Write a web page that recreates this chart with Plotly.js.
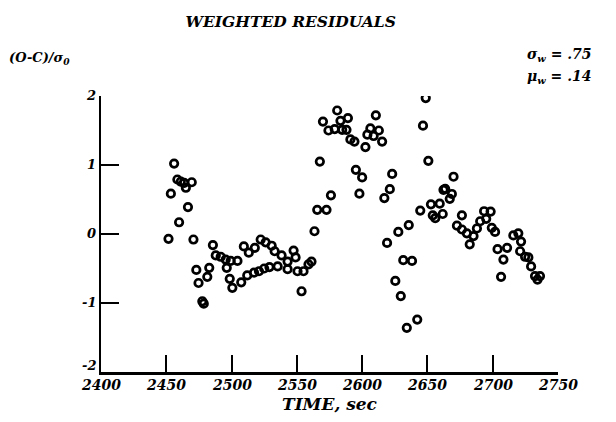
<!DOCTYPE html>
<html>
<head>
<meta charset="utf-8">
<script src="https://cdn.plot.ly/plotly-3.0.1.min.js"></script>
<style>html,body{margin:0;padding:0;background:#fff;}#chart{width:616px;height:422px;}</style>
</head>
<body>
<div id="chart"></div>
<script>
// Time (sec) of each observation
const timeSec = [
  2451.7, 2453.5, 2456.0, 2458.5, 2459.8, 2461.1, 2463.7, 2465.0, 2466.6, 2469.5,
  2470.8, 2473.0, 2474.7, 2477.6, 2478.7, 2481.4, 2482.9, 2485.7, 2487.9, 2491.7,
  2495.5, 2496.3, 2498.6, 2499.3, 2500.6, 2504.5,
  2507.4, 2509.4, 2512.0, 2513.2, 2517.2, 2517.8, 2521.0, 2522.3, 2525.0, 2526.1,
  2529.0, 2530.7, 2533.0, 2535.3, 2538.3, 2542.9, 2542.9, 2547.5, 2549.0, 2550.5,
  2553.6, 2555.1, 2558.9, 2561.2,
  2563.5, 2565.6, 2567.6, 2570.0, 2572.7, 2574.2, 2576.1, 2579.0, 2580.9, 2583.4,
  2584.7, 2588.0, 2589.1, 2591.0, 2594.1, 2595.2, 2597.9, 2600.0, 2602.5, 2604.0,
  2606.3, 2608.8, 2610.5, 2612.8, 2615.3, 2617.0, 2619.1, 2621.2, 2623.0, 2625.4,
  2627.7, 2629.6, 2631.5, 2634.2, 2635.7, 2638.2, 2642.2, 2644.5, 2646.6, 2648.7,
  2650.7, 2652.7, 2654.1, 2656.0, 2659.4, 2661.7, 2662.3, 2663.6, 2667.1, 2668.7,
  2670.0, 2672.6, 2676.4, 2676.4, 2680.2, 2682.4, 2685.3, 2687.9, 2690.4, 2693.4,
  2695.0, 2698.4, 2699.3, 2701.8, 2703.7, 2706.4, 2708.2, 2711.0, 2715.8, 2719.6,
  2721.0, 2721.7, 2724.8, 2727.3, 2729.4, 2732.4, 2734.3, 2736.2
];
// Weighted residual (O-C)/sigma_0
const residual = [
  -0.07, 0.585, 1.02, 0.79, 0.17, 0.76, 0.74, 0.67, 0.39, 0.75,
  -0.08, -0.52, -0.71, -0.975, -1.01, -0.62, -0.49, -0.16, -0.31, -0.33,
  -0.37, -0.49, -0.65, -0.39, -0.78, -0.39,
  -0.70, -0.18, -0.60, -0.27, -0.56, -0.20, -0.54, -0.08, -0.50, -0.12,
  -0.48, -0.17, -0.25, -0.47, -0.31, -0.40, -0.51, -0.24, -0.34, -0.54,
  -0.83, -0.54, -0.44, -0.40,
  0.04, 0.35, 1.05, 1.63, 0.35, 1.50, 0.56, 1.52, 1.79, 1.64,
  1.51, 1.51, 1.68, 1.37, 1.34, 0.93, 0.585, 0.82, 1.26, 1.44,
  1.53, 1.42, 1.72, 1.50, 1.34, 0.52, -0.13, 0.65, 0.87, -0.68,
  0.03, -0.90, -0.38, -1.36, 0.13, -0.39, -1.24, 0.34, 1.57, 1.97,
  1.06, 0.43, 0.27, 0.23, 0.44, 0.29, 0.64, 0.655, 0.51, 0.58,
  0.83, 0.12, 0.27, 0.065, 0.01, -0.15, -0.03, 0.08, 0.185, 0.33,
  0.22, 0.325, 0.09, 0.03, -0.22, -0.62, -0.37, -0.20, -0.02, 0.01,
  -0.25, -0.11, -0.33, -0.34, -0.47, -0.61, -0.66, -0.61
];
const xTicks = [2400, 2450, 2500, 2550, 2600, 2650, 2700, 2750];
const xTickText = ['2400', '2450', '2500', '2550', '2600', '2650', '2700', '2750'];
const yTicks = [-2, -1, 0, 1, 2];
const yTickText = ['-2', '-1', '0', '1', '2'];

const fam = 'DejaVu Serif, Liberation Serif, serif';
const bi = (size) => ({family: fam, size: size, color: '#000', weight: 'bold', style: 'italic'});

const trace = {
  x: timeSec, y: residual, type: 'scatter', mode: 'markers',
  marker: {symbol: 'circle-open', size: 7.5, color: '#000', line: {width: 2.7, color: '#000'}},
  hoverinfo: 'skip'
};

// Tick labels drawn as bold-italic text anchored to the axis scales
const xTickLabels = xTicks.map((v, i) => ({
  text: xTickText[i], xref: 'x', yref: 'paper', x: v, y: 0,
  xanchor: 'center', yanchor: 'top', yshift: -4, borderpad: 0, showarrow: false, font: bi(14)
}));
const yTickLabels = yTicks.map((v, i) => ({
  text: yTickText[i], xref: 'paper', yref: 'y', x: 0, y: v,
  xanchor: 'right', yanchor: 'middle', xshift: -4, yshift: (i === 0 ? 7 : 1), borderpad: 0,
  showarrow: false, font: bi(13)
}));

const layout = {
  width: 616, height: 422,
  font: bi(14),
  paper_bgcolor: '#fff', plot_bgcolor: '#fff',
  margin: {l: 101, r: 58, t: 96, b: 50, pad: 0},
  showlegend: false,
  title: {text: 'WEIGHTED RESIDUALS', font: bi(15.5), x: 0.472, xref: 'container', xanchor: 'center', y: 0.95, yref: 'container', yanchor: 'middle'},
  xaxis: {
    range: [2400, 2750], tickmode: 'array', tickvals: xTicks, showticklabels: false,
    ticks: 'inside', ticklen: 17, tickwidth: 2, tickcolor: '#000',
    showline: true, linewidth: 2.5, linecolor: '#000', mirror: false,
    showgrid: false, zeroline: false, automargin: false,
    title: {text: 'TIME, sec', font: bi(17), standoff: 25}
  },
  yaxis: {
    range: [-2, 2], tickmode: 'array', tickvals: yTicks, showticklabels: false,
    ticks: 'inside', ticklen: 18, tickwidth: 2, tickcolor: '#000',
    showline: true, linewidth: 2.5, linecolor: '#000', mirror: false,
    showgrid: false, zeroline: false, automargin: false
  },
  annotations: [
    {text: '(O-C)/σ<sub>0</sub>', xref: 'paper', yref: 'paper', x: -0.2057, y: 1.1365, xanchor: 'left', yanchor: 'middle', showarrow: false, font: bi(13)},
    {text: 'σ<sub>w</sub> = .75', xref: 'paper', yref: 'paper', x: 0.912, y: 1.150, xshift: 7, xanchor: 'left', yanchor: 'middle', showarrow: false, font: bi(14)},
    {text: 'μ<sub>w</sub> = .14', xref: 'paper', yref: 'paper', x: 0.912, y: 1.068, xshift: 7, xanchor: 'left', yanchor: 'middle', showarrow: false, font: bi(14)}
  ].concat(xTickLabels, yTickLabels)
};

Plotly.newPlot('chart', [trace], layout, {displayModeBar: false, staticPlot: true});
</script>
</body>
</html>
